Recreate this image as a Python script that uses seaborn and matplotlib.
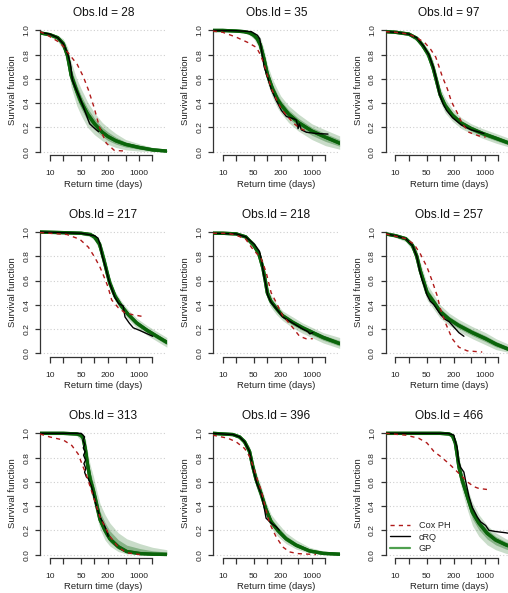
import matplotlib
matplotlib.use("Agg")
import matplotlib.pyplot as plt
from matplotlib.lines import Line2D
from matplotlib.ticker import FixedLocator, NullFormatter
import seaborn as sns
import pandas as pd

# ---------------- data ----------------
OBS_IDS = [28, 35, 97, 217, 218, 257, 313, 396, 466]

# Obs.Id = 28
GP_T_28 = [6, 10, 15, 20, 25, 30, 40, 50, 70, 100, 150, 200, 300, 500, 1000, 2000, 4200]
GP_MID_28 = [0.98, 0.965, 0.94, 0.89, 0.79, 0.63, 0.5, 0.41, 0.31, 0.23, 0.16, 0.125, 0.09, 0.06, 0.035, 0.015, 0.005]
GP_LO_28 = [0.97, 0.95, 0.91, 0.84, 0.7, 0.53, 0.38, 0.3, 0.2, 0.14, 0.09, 0.06, 0.035, 0.015, 0.005, 0.0, 0.0]
GP_HI_28 = [0.99, 0.98, 0.96, 0.93, 0.86, 0.74, 0.6, 0.52, 0.41, 0.32, 0.24, 0.2, 0.15, 0.1, 0.065, 0.035, 0.015]
COX_T_28 = [6, 8, 11, 15, 20, 25, 32, 41, 56, 73, 97, 130, 184, 280, 500]
COX_S_28 = [0.99, 0.97, 0.94, 0.91, 0.87, 0.82, 0.77, 0.72, 0.62, 0.51, 0.37, 0.2, 0.07, 0.01, 0.005]
CRQ_T_28 = [6, 10, 15, 20, 25, 29, 32, 38, 46, 55, 63, 78, 95, 110, 124]
CRQ_S_28 = [0.985, 0.97, 0.94, 0.89, 0.81, 0.72, 0.59, 0.52, 0.45, 0.38, 0.32, 0.23, 0.2, 0.18, 0.165]

# Obs.Id = 35
GP_T_35 = [6, 10, 20, 30, 40, 50, 60, 70, 85, 100, 130, 170, 200, 300, 500, 1000, 2000, 4200]
GP_MID_35 = [1.0, 1.0, 0.995, 0.99, 0.98, 0.96, 0.93, 0.88, 0.76, 0.64, 0.52, 0.43, 0.39, 0.31, 0.24, 0.17, 0.12, 0.07]
GP_LO_35 = [1.0, 0.995, 0.99, 0.98, 0.96, 0.93, 0.88, 0.82, 0.69, 0.57, 0.45, 0.36, 0.32, 0.24, 0.17, 0.1, 0.05, 0.02]
GP_HI_35 = [1.0, 1.0, 1.0, 1.0, 0.995, 0.985, 0.97, 0.94, 0.84, 0.72, 0.6, 0.51, 0.46, 0.38, 0.31, 0.23, 0.18, 0.13]
COX_T_35 = [6, 10, 13, 20, 37, 57, 70, 85, 100, 124, 160, 208, 269, 400, 550, 755]
COX_S_35 = [0.995, 0.985, 0.97, 0.945, 0.9, 0.86, 0.8, 0.72, 0.63, 0.52, 0.43, 0.35, 0.3, 0.23, 0.19, 0.17]
CRQ_T_35 = [6, 20, 44, 60, 68, 74, 85, 101, 124, 160, 208, 269, 400, 450, 491, 520, 583, 755, 1260, 2300]
CRQ_S_35 = [1.0, 0.998, 0.99, 0.96, 0.93, 0.84, 0.7, 0.62, 0.51, 0.42, 0.34, 0.29, 0.27, 0.26, 0.19, 0.23, 0.18, 0.16, 0.15, 0.145]

# Obs.Id = 97
GP_T_97 = [6, 10, 20, 30, 40, 55, 70, 85, 100, 130, 190, 300, 500, 900, 1800, 4200]
GP_MID_97 = [0.99, 0.985, 0.97, 0.935, 0.88, 0.8, 0.69, 0.57, 0.47, 0.38, 0.3, 0.235, 0.19, 0.15, 0.11, 0.06]
GP_LO_97 = [0.985, 0.975, 0.955, 0.91, 0.85, 0.75, 0.63, 0.51, 0.41, 0.32, 0.25, 0.19, 0.15, 0.11, 0.07, 0.03]
GP_HI_97 = [0.995, 0.99, 0.98, 0.955, 0.91, 0.84, 0.75, 0.63, 0.53, 0.44, 0.35, 0.28, 0.23, 0.19, 0.15, 0.1]
COX_T_97 = [6, 10, 20, 30, 45, 60, 80, 95, 112, 145, 181, 243, 314, 444, 744, 1050]
COX_S_97 = [0.99, 0.985, 0.97, 0.94, 0.9, 0.85, 0.78, 0.7, 0.62, 0.52, 0.41, 0.32, 0.23, 0.16, 0.13, 0.12]
CRQ_T_97 = [6, 10, 20, 30, 43, 56, 70, 82, 96, 115, 140, 190, 300, 500, 960]
CRQ_S_97 = [0.99, 0.985, 0.97, 0.94, 0.87, 0.8, 0.7, 0.6, 0.48, 0.4, 0.34, 0.28, 0.22, 0.18, 0.15]

# Obs.Id = 217
GP_T_217 = [6, 20, 50, 80, 100, 130, 160, 190, 220, 290, 400, 570, 880, 1500, 2500, 4200]
GP_MID_217 = [1.0, 0.995, 0.99, 0.98, 0.96, 0.9, 0.78, 0.67, 0.58, 0.47, 0.39, 0.32, 0.25, 0.19, 0.14, 0.09]
GP_LO_217 = [0.995, 0.99, 0.98, 0.96, 0.93, 0.85, 0.72, 0.61, 0.53, 0.43, 0.35, 0.28, 0.21, 0.15, 0.1, 0.05]
GP_HI_217 = [1.0, 1.0, 0.995, 0.99, 0.98, 0.94, 0.84, 0.73, 0.63, 0.51, 0.43, 0.36, 0.29, 0.23, 0.18, 0.13]
COX_T_217 = [6, 24, 47, 73, 102, 133, 160, 200, 243, 343, 480, 680, 1140]
COX_S_217 = [0.995, 0.98, 0.94, 0.875, 0.79, 0.71, 0.64, 0.55, 0.44, 0.375, 0.335, 0.32, 0.305]
CRQ_T_217 = [6, 50, 100, 120, 133, 150, 180, 210, 250, 288, 350, 442, 483, 600, 740, 1010, 2020]
CRQ_S_217 = [1.0, 0.99, 0.97, 0.95, 0.9, 0.8, 0.7, 0.6, 0.52, 0.46, 0.41, 0.39, 0.3, 0.25, 0.21, 0.19, 0.14]

# Obs.Id = 218
GP_T_218 = [6, 10, 20, 33, 50, 65, 80, 90, 100, 120, 160, 220, 370, 620, 1050, 1800, 4200]
GP_MID_218 = [0.99, 0.99, 0.985, 0.96, 0.89, 0.82, 0.7, 0.6, 0.5, 0.43, 0.37, 0.31, 0.255, 0.21, 0.17, 0.13, 0.08]
GP_LO_218 = [0.985, 0.98, 0.975, 0.94, 0.86, 0.77, 0.64, 0.54, 0.45, 0.38, 0.32, 0.27, 0.21, 0.165, 0.125, 0.085, 0.04]
GP_HI_218 = [0.995, 0.995, 0.99, 0.975, 0.92, 0.86, 0.76, 0.66, 0.56, 0.48, 0.41, 0.35, 0.3, 0.25, 0.21, 0.17, 0.13]
COX_T_218 = [6, 13, 20, 33, 45, 73, 94, 122, 158, 222, 340, 530, 740, 1050]
COX_S_218 = [0.99, 0.99, 0.975, 0.94, 0.87, 0.78, 0.67, 0.5, 0.42, 0.31, 0.23, 0.14, 0.12, 0.12]
CRQ_T_218 = [6, 20, 33, 51, 67, 75, 82, 91, 102, 122, 158, 222, 370, 620, 800, 900, 1050]
CRQ_S_218 = [0.99, 0.985, 0.96, 0.9, 0.84, 0.76, 0.66, 0.58, 0.48, 0.42, 0.37, 0.3, 0.25, 0.2, 0.18, 0.16, 0.17]

# Obs.Id = 257
GP_T_257 = [6, 10, 17, 24, 30, 36, 43, 51, 73, 100, 160, 260, 530, 1050, 1800, 4200]
GP_MID_257 = [0.985, 0.97, 0.945, 0.89, 0.8, 0.68, 0.59, 0.5, 0.42, 0.345, 0.28, 0.23, 0.17, 0.12, 0.075, 0.02]
GP_LO_257 = [0.975, 0.955, 0.92, 0.85, 0.74, 0.61, 0.52, 0.44, 0.36, 0.29, 0.23, 0.18, 0.12, 0.07, 0.03, 0.0]
GP_HI_257 = [0.99, 0.98, 0.965, 0.92, 0.85, 0.75, 0.66, 0.57, 0.48, 0.4, 0.33, 0.28, 0.22, 0.17, 0.12, 0.06]
COX_T_257 = [6, 17, 26, 36, 51, 66, 86, 102, 132, 187, 264, 405, 880]
COX_S_257 = [0.985, 0.945, 0.9, 0.82, 0.71, 0.6, 0.475, 0.365, 0.25, 0.12, 0.05, 0.02, 0.01]
CRQ_T_257 = [6, 10, 17, 24, 30, 35, 40, 45, 51, 60, 73, 90, 102, 130, 160, 200, 264, 342]
CRQ_S_257 = [0.985, 0.97, 0.945, 0.89, 0.8, 0.68, 0.6, 0.55, 0.48, 0.43, 0.4, 0.35, 0.32, 0.28, 0.26, 0.22, 0.17, 0.14]

# Obs.Id = 313
GP_T_313 = [6, 20, 40, 50, 56, 63, 70, 80, 94, 112, 133, 172, 222, 340, 530, 1050, 2000, 4200]
GP_MID_313 = [1.0, 1.0, 0.995, 0.985, 0.96, 0.86, 0.74, 0.62, 0.53, 0.41, 0.29, 0.2, 0.13, 0.065, 0.025, 0.008, 0.003, 0.001]
GP_LO_313 = [1.0, 0.995, 0.98, 0.94, 0.88, 0.76, 0.64, 0.53, 0.44, 0.32, 0.21, 0.12, 0.07, 0.025, 0.005, 0.0, 0.0, 0.0]
GP_HI_313 = [1.0, 1.0, 1.0, 0.995, 0.99, 0.95, 0.85, 0.74, 0.65, 0.53, 0.42, 0.33, 0.26, 0.18, 0.13, 0.09, 0.06, 0.04]
COX_T_313 = [6, 10, 20, 31, 43, 56, 64, 100, 133, 222, 342, 527, 1050]
COX_S_313 = [0.995, 0.97, 0.945, 0.9, 0.83, 0.72, 0.67, 0.45, 0.31, 0.15, 0.06, 0.015, 0.0]
CRQ_T_313 = [6, 50, 54, 60, 55, 61, 56, 62, 57, 63, 58, 64, 60, 66, 72, 86, 102, 112, 133, 158, 187, 203]
CRQ_S_313 = [1.0, 1.0, 0.99, 0.97, 0.94, 0.91, 0.88, 0.85, 0.82, 0.78, 0.75, 0.71, 0.68, 0.64, 0.63, 0.56, 0.45, 0.39, 0.31, 0.26, 0.2, 0.15]

# Obs.Id = 396
GP_T_396 = [6, 10, 17, 24, 31, 40, 47, 56, 73, 94, 122, 172, 264, 444, 884, 1760, 4200]
GP_MID_396 = [1.0, 0.995, 0.99, 0.97, 0.93, 0.85, 0.73, 0.62, 0.5, 0.37, 0.27, 0.2, 0.13, 0.077, 0.03, 0.01, 0.003]
GP_LO_396 = [0.995, 0.99, 0.98, 0.95, 0.9, 0.8, 0.67, 0.56, 0.44, 0.31, 0.22, 0.15, 0.09, 0.045, 0.012, 0.002, 0.0]
GP_HI_396 = [1.0, 1.0, 0.995, 0.985, 0.955, 0.89, 0.79, 0.68, 0.56, 0.43, 0.33, 0.26, 0.18, 0.12, 0.06, 0.03, 0.012]
COX_T_396 = [6, 13, 20, 31, 40, 51, 61, 73, 86, 112, 158, 222, 314, 480, 1240]
COX_S_396 = [0.985, 0.96, 0.93, 0.875, 0.81, 0.7, 0.61, 0.53, 0.42, 0.26, 0.146, 0.063, 0.022, 0.008, 0.0]
CRQ_T_396 = [6, 17, 24, 31, 40, 47, 58, 73, 83, 94, 122, 158, 187]
CRQ_S_396 = [1.0, 0.99, 0.97, 0.93, 0.85, 0.72, 0.59, 0.5, 0.41, 0.3, 0.26, 0.23, 0.2]

# Obs.Id = 466
GP_T_466 = [6, 50, 100, 160, 190, 220, 245, 265, 315, 400, 530, 740, 1140, 1760, 3000, 4200]
GP_MID_466 = [1.0, 1.0, 1.0, 0.995, 0.98, 0.92, 0.81, 0.72, 0.61, 0.49, 0.35, 0.26, 0.175, 0.12, 0.08, 0.06]
GP_LO_466 = [1.0, 1.0, 0.995, 0.98, 0.95, 0.86, 0.74, 0.64, 0.52, 0.38, 0.24, 0.15, 0.08, 0.04, 0.01, 0.0]
GP_HI_466 = [1.0, 1.0, 1.0, 1.0, 0.995, 0.96, 0.88, 0.8, 0.69, 0.56, 0.43, 0.33, 0.24, 0.18, 0.13, 0.11]
COX_T_466 = [6, 17, 33, 51, 73, 102, 158, 204, 264, 342, 444, 575, 745, 1140]
COX_S_466 = [1.0, 0.985, 0.96, 0.92, 0.85, 0.81, 0.75, 0.71, 0.67, 0.63, 0.59, 0.56, 0.545, 0.537]
CRQ_T_466 = [6, 150, 204, 220, 243, 256, 288, 342, 373, 444, 527, 682, 811, 1050, 1247, 1760, 2950, 4200]
CRQ_S_466 = [1.0, 1.0, 0.985, 0.93, 0.88, 0.78, 0.72, 0.68, 0.61, 0.48, 0.39, 0.31, 0.27, 0.24, 0.2, 0.19, 0.18, 0.17]

X_TICKS = [10, 20, 50, 100, 200, 500, 1000, 2000]
X_TICK_LABELS = ["10", "", "50", "", "200", "", "1000", ""]
Y_TICKS = [0.0, 0.2, 0.4, 0.6, 0.8, 1.0]
LEGEND_LABELS = ["Cox PH", "cRQ", "GP"]

PANELS = {
    28: (GP_T_28, GP_MID_28, GP_LO_28, GP_HI_28, COX_T_28, COX_S_28, CRQ_T_28, CRQ_S_28),
    35: (GP_T_35, GP_MID_35, GP_LO_35, GP_HI_35, COX_T_35, COX_S_35, CRQ_T_35, CRQ_S_35),
    97: (GP_T_97, GP_MID_97, GP_LO_97, GP_HI_97, COX_T_97, COX_S_97, CRQ_T_97, CRQ_S_97),
    217: (GP_T_217, GP_MID_217, GP_LO_217, GP_HI_217, COX_T_217, COX_S_217, CRQ_T_217, CRQ_S_217),
    218: (GP_T_218, GP_MID_218, GP_LO_218, GP_HI_218, COX_T_218, COX_S_218, CRQ_T_218, CRQ_S_218),
    257: (GP_T_257, GP_MID_257, GP_LO_257, GP_HI_257, COX_T_257, COX_S_257, CRQ_T_257, CRQ_S_257),
    313: (GP_T_313, GP_MID_313, GP_LO_313, GP_HI_313, COX_T_313, COX_S_313, CRQ_T_313, CRQ_S_313),
    396: (GP_T_396, GP_MID_396, GP_LO_396, GP_HI_396, COX_T_396, COX_S_396, CRQ_T_396, CRQ_S_396),
    466: (GP_T_466, GP_MID_466, GP_LO_466, GP_HI_466, COX_T_466, COX_S_466, CRQ_T_466, CRQ_S_466),
}

# ---------------- style ----------------
sns.set_style("white")
plt.rcParams["font.family"] = ["Liberation Sans", "DejaVu Sans"]

GREEN = "#0a640a"
RED = "#b01a1a"
AXCOL = "#333333"

W, H = 508, 593
fig = plt.figure(figsize=(W / 100, H / 100), dpi=100)

AX_W = 127.0
AX_H = 129.7
LEFTS_PX = [40.0, 212.8, 385.6]
TOPS_PX = [25.6, 227.2, 428.5]
PX = 72.0 / 100.0  # points per pixel
TICK_FS = 6.1

for i, oid in enumerate(OBS_IDS):
    r, c = divmod(i, 3)
    ax = fig.add_axes([LEFTS_PX[c] / W, 1 - (TOPS_PX[r] + AX_H) / H, AX_W / W, AX_H / H])
    ax.set_xscale("log")
    gt, gm, gl, gh, ct, cs, qt, qs = PANELS[oid]

    gp_df = pd.DataFrame({
        "t": gt * 3,
        "s": gm + gl + gh,
    })
    sns.lineplot(data=gp_df, x="t", y="s", estimator="median", errorbar=("pi", 100),
                 color=GREEN, linewidth=2.4, err_kws={"alpha": 0.22, "linewidth": 0},
                 ax=ax, zorder=3)
    sns.lineplot(data=gp_df, x="t", y="s", estimator="median", errorbar=("pi", 50),
                 color=GREEN, linewidth=2.4, alpha=0.9, err_kws={"alpha": 0.35, "linewidth": 0},
                 ax=ax, zorder=3)

    crq_df = pd.DataFrame({"t": qt, "s": qs})
    sns.lineplot(data=crq_df, x="t", y="s", estimator=None, sort=False,
                 color="black", linewidth=1.0, ax=ax, zorder=5)

    cox_df = pd.DataFrame({"t": ct, "s": cs})
    sns.lineplot(data=cox_df, x="t", y="s", estimator=None, sort=False,
                 color=RED, linewidth=1.0, dashes=False, ax=ax, zorder=6)
    ax.lines[-1].set_dashes([3, 3])

    ax.set_xlim(6, 4230)
    ax.set_ylim(-0.03, 1.04)

    # axes decoration, R style
    for side in ("top", "right"):
        ax.spines[side].set_visible(False)
    for side in ("left", "bottom"):
        ax.spines[side].set_color(AXCOL)
        ax.spines[side].set_linewidth(0.9)
    ax.spines["left"].set_bounds(0, 1)
    ax.spines["bottom"].set_bounds(10, 2000)

    ax.set_xticks(X_TICKS, X_TICK_LABELS)
    ax.xaxis.set_minor_locator(FixedLocator([10, 100, 1000]))
    ax.xaxis.set_minor_formatter(NullFormatter())
    ax.set_yticks(Y_TICKS, [f"{v:.1f}" for v in Y_TICKS])
    ax.tick_params(axis="x", which="major", bottom=True, direction="out",
                   length=5.5 * PX, width=0.9, color=AXCOL,
                   labelsize=TICK_FS, pad=9.5 * PX, labelcolor="#222222")
    ax.tick_params(axis="x", which="minor", bottom=False, length=0)
    ax.tick_params(axis="y", which="major", left=True, direction="out",
                   length=5.5 * PX, width=0.9, color=AXCOL,
                   labelsize=TICK_FS, pad=4.0 * PX, labelcolor="#222222", labelrotation=90)
    for lab in ax.get_yticklabels():
        lab.set_va("center")

    ax.grid(False)
    ax.grid(True, which="minor", axis="x", linestyle=(0, (1, 2)), color="#cfcfcf", linewidth=0.8)
    ax.grid(True, which="major", axis="y", linestyle=(0, (1, 2)), color="#cfcfcf", linewidth=0.8)
    ax.set_axisbelow(True)

    ax.set_xlabel("Return time (days)", fontsize=6.8, color="#222222")
    ax.xaxis.set_label_coords(0.5, -0.222)
    ax.xaxis.label.set_va("center")
    ax.set_ylabel("Survival function", fontsize=6.8, color="#222222")
    ax.yaxis.set_label_coords(-0.213, 0.5)
    ax.yaxis.label.set_va("center")

    ax.set_title(f"Obs.Id = {oid}", fontsize=8.6, y=1.097, pad=0, va="center", color="#111111")

    if oid == 466:
        handles = [
            Line2D([], [], color=RED, linewidth=1.0, dashes=[3, 3]),
            Line2D([], [], color="black", linewidth=1.0),
            Line2D([], [], color="#4fa04f", linewidth=1.6),
        ]
        ax.legend(handles, LEGEND_LABELS, loc="lower left", bbox_to_anchor=(0.0, 0.005),
                  frameon=False, fontsize=6.6, handlelength=2.2, handletextpad=0.9,
                  labelspacing=0.25, borderpad=0.3, borderaxespad=0.2)

fig.savefig("out.png", dpi=100)
